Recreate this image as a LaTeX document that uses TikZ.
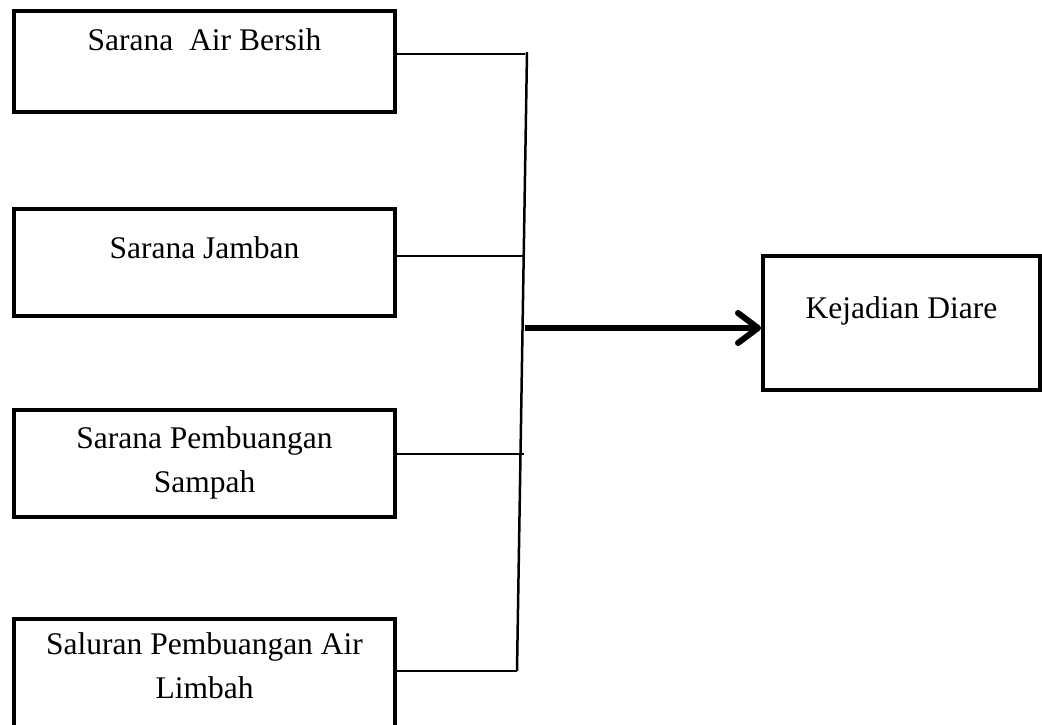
\documentclass[tikz,border=0pt]{standalone}
\usepackage{fontspec}
\setmainfont{Liberation Serif}
\usetikzlibrary{arrows.meta}
\begin{document}
\begin{tikzpicture}[x=1pt,y=-1pt,
  box/.style={draw, line width=4pt, inner sep=0pt, align=center, anchor=north west,
    font=\fontsize{31.5}{44}\selectfont, minimum width=381pt},
  link/.style={line width=2pt},
  spine/.style={line width=2.5pt},
  bigarrow/.style={line width=6pt, -{Straight Barb[length=20pt,width=30pt,round]}}]
\useasboundingbox (0,0) rectangle (1042,725);

\node[box, text height=40pt, text depth=61pt] (b1) at (12,9) {Sarana\ \ Air Bersih};
\node[box, text height=49pt, text depth=58pt] (b2) at (12,207) {Sarana Jamban};
\node[box, text height=82pt, text depth=25pt] (b3) at (12,408) {Sarana Pembuangan\\Sampah};
\node[box, text height=79pt, text depth=37pt] (b4) at (12,617) {Saluran Pembuangan Air\\Limbah};
\node[box, minimum width=277pt, text height=62pt, text depth=72pt] (b5) at (761,254) {Kejadian Diare};

\coordinate (vt) at (527,52);
\coordinate (vb) at (517,671);
\coordinate (j1) at (525,54);
\coordinate (j2) at (523,256);
\coordinate (j3) at (524,454);
\coordinate (j4) at (517,671);
\coordinate (a0) at (525,328);

\draw[spine] (vt) -- (vb);
\draw[link] (b1.east |- j1) -- (j1);
\draw[link] (b2.east |- j2) -- (j2);
\draw[link] (b3.east |- j3) -- (j3);
\draw[link] (b4.east |- j4) -- (j4);
\draw[bigarrow] (a0) -- (a0 -| b5.west);
\end{tikzpicture}
\end{document}
